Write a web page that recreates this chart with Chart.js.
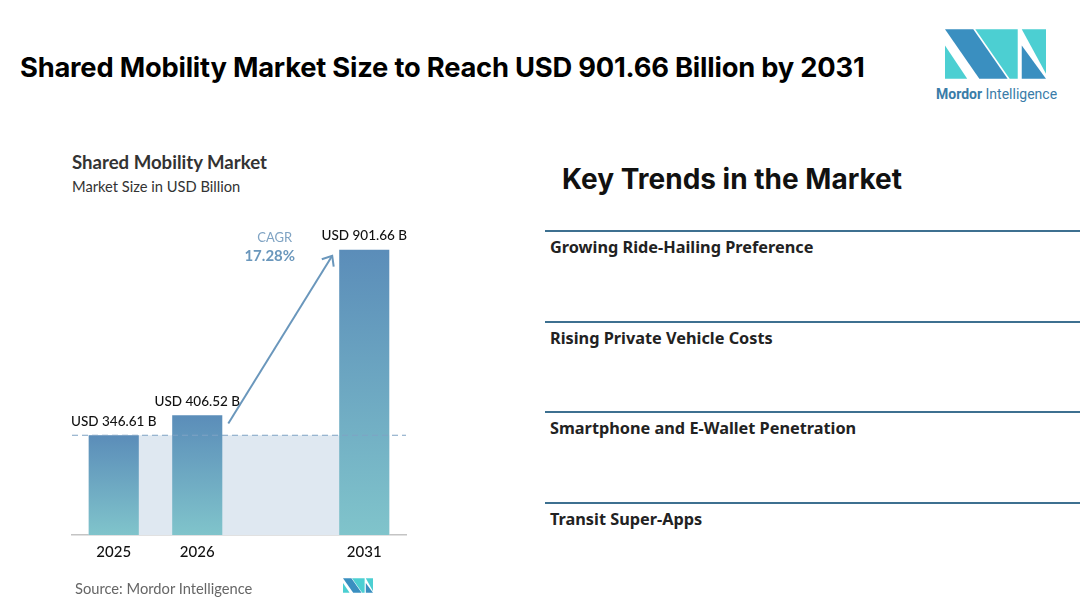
<!DOCTYPE html>
<html>
<head>
<meta charset="utf-8">
<script src="https://cdn.jsdelivr.net/npm/chart.js@4.4.0/dist/chart.umd.min.js"></script>
<style>
  body { margin:0; width:1080px; height:605px; background:#fff; position:relative; overflow:hidden; font-family: Lato, "Open Sans", sans-serif; }
  .abs { position:absolute; white-space:nowrap; }
  #title { left:20px; top:51px; font: 700 27.3px Inter, sans-serif; color:#000; letter-spacing:-0.2px; }
  #sub1 { left:72px; top:151px; font: 700 18.6px Lato, sans-serif; color:#333; }
  #sub2 { left:72px; top:177px; font: 400 14.7px Lato, sans-serif; color:#333; }
  #source { left:75px; top:579px; font: 400 14.7px Lato, sans-serif; color:#666; }
  #trendsHead { left:562px; top:162px; font: 700 28px Inter, sans-serif; color:#111; }
  .rule { position:absolute; left:545px; width:535px; height:2px; background:#3d7090; }
  .item { position:absolute; left:550px; font: 700 16.3px "Noto Sans", sans-serif; color:#222; }
  #chartBox { position:absolute; left:60px; top:200px; width:360px; height:380px; }
  #logoText { left:936px; top:86px; font: 400 14px Roboto, sans-serif; color:#3a7ca8; }
</style>
</head>
<body>
<div id="title" class="abs">Shared Mobility Market Size to Reach USD 901.66 Billion by 2031</div>

<svg class="abs" style="left:945px;top:29px" width="101" height="50" viewBox="0 0 100 49">
  <polygon points="0,0 28,0 62,49 34,49" fill="#3a8fc0"/>
  <polygon points="0,16 0,49 22,49" fill="#4ccfd2"/>
  <polygon points="30,0 72,0 72,49 64,49" fill="#4ccfd2"/>
  <polygon points="76,16 100,49 76,49" fill="#3a8fc0"/>
  <polygon points="76,0 100,0 100,44" fill="#4ccfd2"/>
</svg>
<div id="logoText" class="abs"><b style="font-weight:700">Mordor</b> Intelligence</div>

<div id="sub1" class="abs">Shared Mobility Market</div>
<div id="sub2" class="abs">Market Size in USD Billion</div>

<div id="chartBox"><canvas id="marketChart"></canvas></div>

<div id="source" class="abs">Source: Mordor Intelligence</div>
<svg class="abs" style="left:343px;top:578px" width="30" height="15" viewBox="0 0 100 49">
  <polygon points="0,0 28,0 62,49 34,49" fill="#3a8fc0"/>
  <polygon points="0,16 0,49 22,49" fill="#4ccfd2"/>
  <polygon points="30,0 72,0 72,49 64,49" fill="#4ccfd2"/>
  <polygon points="76,16 100,49 76,49" fill="#3a8fc0"/>
  <polygon points="76,0 100,0 100,44" fill="#4ccfd2"/>
</svg>

<div id="trendsHead" class="abs">Key Trends in the Market</div>
<div id="trends"></div>

<script>
const years = ['2025', '2026', '', '2031'];
const marketSize = [346.61, 406.52, null, 901.66];
const valueLabels = ['USD 346.61 B', 'USD 406.52 B', '', 'USD 901.66 B'];
const cagrText = ['CAGR', '17.28%'];
const trends = ['Growing Ride-Hailing Preference', 'Rising Private Vehicle Costs', 'Smartphone and E-Wallet Penetration', 'Transit Super-Apps'];

// right side list
const trendsBox = document.getElementById('trends');
trends.forEach((t, i) => {
  const top = 230 + i * 90.7;
  const rule = document.createElement('div');
  rule.className = 'rule';
  rule.style.top = top + 'px';
  trendsBox.appendChild(rule);
  const item = document.createElement('div');
  item.className = 'item';
  item.style.top = (top + 6) + 'px';
  item.textContent = t;
  trendsBox.appendChild(item);
});

function barGradient(ctx) {
  const chart = ctx.chart;
  if (!chart.chartArea || ctx.raw == null || !isFinite(ctx.raw)) return '#6a9fc0';
  const y = chart.scales.y;
  const top = y.getPixelForValue(ctx.raw);
  const bottom = chart.chartArea.bottom;
  if (!isFinite(top) || !isFinite(bottom)) return '#6a9fc0';
  const g = chart.ctx.createLinearGradient(0, top, 0, bottom);
  g.addColorStop(0, '#5b8db9');
  g.addColorStop(1, '#80c4cb');
  return g;
}

const decorations = {
  id: 'decorations',
  beforeDatasetsDraw(chart) {
    const c = chart.ctx, area = chart.chartArea, y = chart.scales.y;
    const bars = chart.getDatasetMeta(0).data;
    const baseY = y.getPixelForValue(marketSize[0]);
    const left = bars[0].x - bars[0].width / 2;
    const right = bars[3].x + bars[3].width / 2;
    c.save();
    c.fillStyle = '#dfe8f1';
    c.fillRect(left, baseY, right - left, area.bottom - baseY);
    c.restore();
  },
  afterDatasetsDraw(chart) {
    const c = chart.ctx, area = chart.chartArea, y = chart.scales.y;
    const bars = chart.getDatasetMeta(0).data;
    const baseY = y.getPixelForValue(marketSize[0]);
    c.save();
    // dashed reference line
    c.strokeStyle = '#7fa3c3';
    c.lineWidth = 1.2;
    c.setLineDash([6, 4]);
    c.beginPath();
    c.moveTo(area.left, baseY);
    c.lineTo(area.right, baseY);
    c.stroke();
    c.setLineDash([]);

    // value labels
    c.fillStyle = '#111';
    c.font = '500 13.5px Lato, sans-serif';
    c.textAlign = 'center';
    c.textBaseline = 'middle';
    bars.forEach((b, i) => {
      if (!valueLabels[i]) return;
      c.fillText(valueLabels[i], b.x, b.y - 14);
    });

    // CAGR arrow
    const x0 = bars[1].x + bars[1].width / 2 + 6, y0 = y.getPixelForValue(382);
    const x1 = bars[3].x - bars[3].width / 2 - 7, y1 = y.getPixelForValue(884);
    c.strokeStyle = '#6a97bc';
    c.lineWidth = 2;
    c.beginPath();
    c.moveTo(x0, y0);
    c.lineTo(x1, y1);
    c.stroke();
    const ang = Math.atan2(y1 - y0, x1 - x0);
    c.beginPath();
    c.moveTo(x1 + 11 * Math.cos(ang + Math.PI * 0.78), y1 + 11 * Math.sin(ang + Math.PI * 0.78));
    c.lineTo(x1, y1);
    c.lineTo(x1 + 11 * Math.cos(ang - Math.PI * 0.78), y1 + 11 * Math.sin(ang - Math.PI * 0.78));
    c.stroke();

    // CAGR text
    const cx = (bars[2].x);
    c.fillStyle = '#7fa3c3';
    c.font = '400 13px Lato, sans-serif';
    c.fillText(cagrText[0], cx - 6, y.getPixelForValue(938));
    c.fillStyle = '#6a97bc';
    c.font = '700 15px Lato, sans-serif';
    c.fillText(cagrText[1], cx - 11, y.getPixelForValue(884));
    c.restore();
  }
};

new Chart(document.getElementById('marketChart'), {
  type: 'bar',
  data: {
    labels: years,
    datasets: [{
      data: marketSize,
      backgroundColor: barGradient,
      categoryPercentage: 1,
      barPercentage: 0.6
    }]
  },
  options: {
    responsive: true,
    maintainAspectRatio: false,
    animation: false,
    layout: { padding: { left: 12, right: 14, top: 17, bottom: 11 } },
    scales: {
      x: {
        grid: { display: false, drawTicks: false, tickLength: 0 },
        border: { color: '#c4c4c4', width: 1.5 },
        ticks: { color: '#111', font: { family: 'Lato', size: 15, weight: '500' }, padding: 8 }
      },
      y: { display: false, min: 48, max: 1000 }
    },
    plugins: { legend: { display: false }, tooltip: { enabled: false } }
  },
  plugins: [decorations]
});
</script>
</body>
</html>
